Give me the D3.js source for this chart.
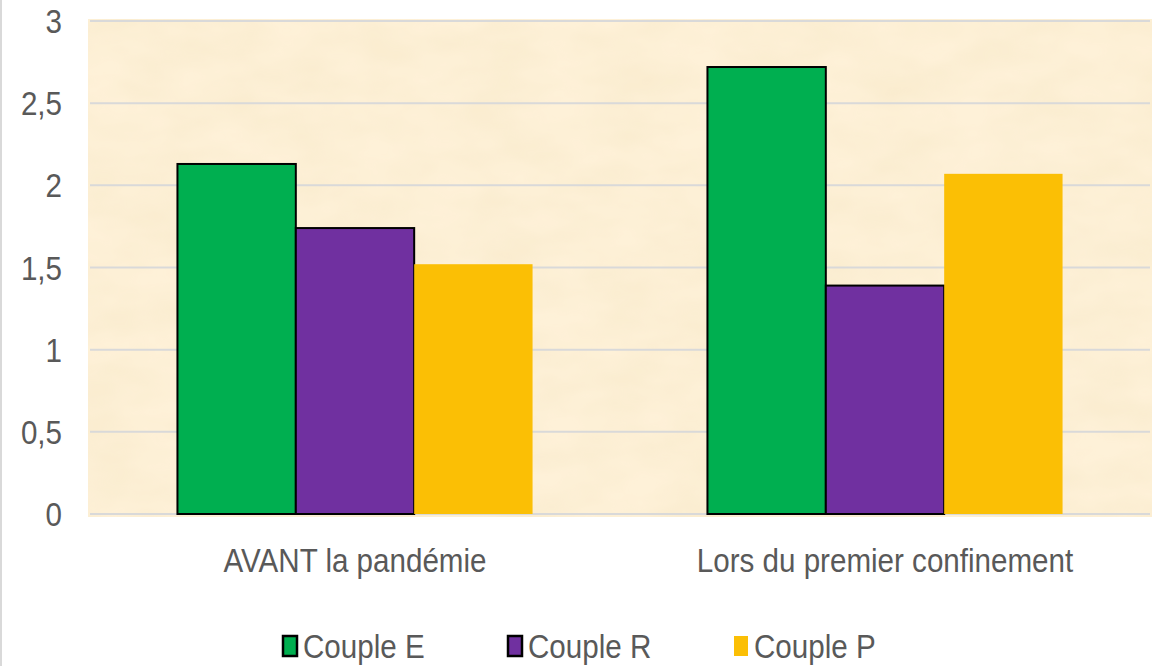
<!DOCTYPE html>
<html lang="fr">
    <head>
        <meta charset="utf-8">
        <title>Couples</title>
        <script src="https://d3js.org/d3.v7.min.js"></script>
        <style type="text/css">
            body { margin: 0; background: #ffffff; }
            text { font-family: "Liberation Sans", Arial, sans-serif; fill: #595959; }
        </style>
    </head>
    <body>
        <script>
            // data
            var categories = ["AVANT la pandémie", "Lors du premier confinement"];
            var series = ["Couple E", "Couple R", "Couple P"];
            var coupleE = [2.13, 2.72];
            var coupleR = [1.74, 1.39];
            var coupleP = [1.52, 2.07];
            var yTicks = [0, 0.5, 1, 1.5, 2, 2.5, 3];

            var values = [coupleE, coupleR, coupleP];
            var colors = ["#00AF50", "#7030A0", "#FBBF05"];
            var strokes = ["#000000", "#000000", "none"];

            // configuration
            var width = 1160, height = 666;
            var plot = { left: 90, right: 1150, top: 21, bottom: 514 };
            var squeeze = 0.87; // condensed look of the labels

            var svg = d3.select("body").append("svg")
                .attr("width", width)
                .attr("height", height);

            var defs = svg.append("defs");
            var filter = defs.append("filter").attr("id", "paper")
                .attr("x", 0).attr("y", 0).attr("width", 1).attr("height", 1);
            filter.append("feTurbulence")
                .attr("type", "fractalNoise")
                .attr("baseFrequency", "0.015 0.03")
                .attr("numOctaves", 3)
                .attr("seed", 4);
            filter.append("feColorMatrix")
                .attr("type", "matrix")
                .attr("values", "0 0 0 0 0.85  0 0 0 0 0.72  0 0 0 0 0.45  0 0 0 0.35 -0.08");
            filter.append("feComposite").attr("in2", "SourceGraphic").attr("operator", "in");

            function label(sel, x, y) {
                return sel.attr("transform", function(d, i) {
                    return "translate(" + x(d, i) + "," + y(d, i) + ") scale(" + squeeze + ",1)";
                });
            }

            // left border of the chart frame
            svg.append("line")
                .attr("x1", 1).attr("x2", 1).attr("y1", 0).attr("y2", height)
                .attr("stroke", "#D9D9D9").attr("stroke-width", 2);

            // plot background
            svg.append("rect")
                .attr("x", plot.left - 2).attr("y", plot.top - 2)
                .attr("width", plot.right - plot.left + 4).attr("height", plot.bottom - plot.top + 5)
                .attr("fill", "#FEF1D8");
            svg.append("rect")
                .attr("x", plot.left - 2).attr("y", plot.top - 2)
                .attr("width", plot.right - plot.left + 4).attr("height", plot.bottom - plot.top + 5)
                .attr("fill", "#ffffff")
                .attr("filter", "url(#paper)");

            var xScale = d3.scaleBand()
                .domain(categories)
                .range([plot.left, plot.right])
                .paddingInner(0.33)
                .paddingOuter(0.165);

            var xInner = d3.scaleBand()
                .domain(series)
                .range([0, xScale.bandwidth()]);

            var yScale = d3.scaleLinear()
                .domain([0, 3])
                .range([plot.bottom, plot.top]);

            var fmt = function(d) { return String(d).replace(".", ","); };

            // gridlines
            svg.append("g").selectAll("line")
                .data(yTicks)
                .enter().append("line")
                .attr("x1", plot.left).attr("x2", plot.right)
                .attr("y1", function(d) { return yScale(d); })
                .attr("y2", function(d) { return yScale(d); })
                .attr("stroke", "#D9D9D9")
                .attr("stroke-width", 2);

            // y tick labels
            label(svg.append("g").selectAll("text")
                .data(yTicks)
                .enter().append("text"),
                function() { return 62; },
                function(d) { return yScale(d) + 12; })
                .attr("text-anchor", "end")
                .style("font-size", "34px")
                .text(fmt);

            // bars
            var groups = svg.append("g").selectAll("g")
                .data(categories)
                .enter().append("g")
                .attr("transform", function(d) { return "translate(" + xScale(d) + ",0)"; });

            groups.selectAll("rect")
                .data(function(d, i) {
                    return series.map(function(s, j) { return { s: s, j: j, v: values[j][i] }; });
                })
                .enter().append("rect")
                .attr("x", function(d) { return xInner(d.s); })
                .attr("y", function(d) { return yScale(d.v); })
                .attr("width", xInner.bandwidth())
                .attr("height", function(d) { return yScale(0) - yScale(d.v); })
                .attr("fill", function(d) { return colors[d.j]; })
                .attr("stroke", function(d) { return strokes[d.j]; })
                .attr("stroke-width", 2);

            // category labels
            label(svg.append("g").selectAll("text")
                .data(categories)
                .enter().append("text"),
                function(d) { return xScale(d) + xScale.bandwidth() / 2; },
                function() { return 572; })
                .attr("text-anchor", "middle")
                .style("font-size", "34px")
                .text(function(d) { return d; });

            // legend
            var legendX = [283, 508, 734];
            var legend = svg.append("g").selectAll("g")
                .data(series)
                .enter().append("g")
                .attr("transform", function(d, i) { return "translate(" + legendX[i] + ",636)"; });

            legend.append("rect")
                .attr("width", 14)
                .attr("height", 20)
                .attr("fill", function(d, i) { return colors[i]; })
                .attr("stroke", function(d, i) { return strokes[i]; })
                .attr("stroke-width", 2.5);

            label(legend.append("text"),
                function() { return 20; },
                function() { return 22; })
                .style("font-size", "34px")
                .text(function(d) { return d; });
        </script>
    </body>
</html>
